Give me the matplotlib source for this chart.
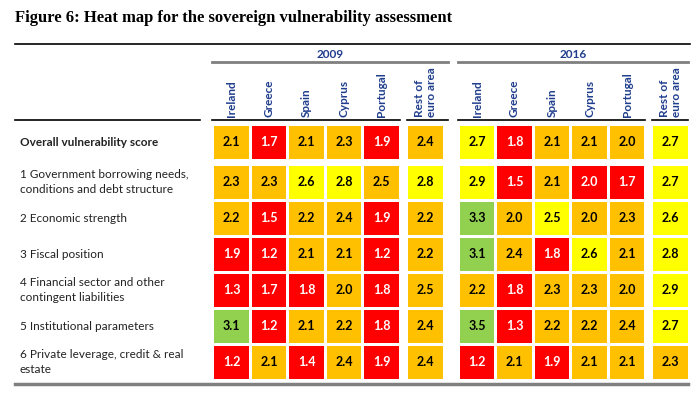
import matplotlib.pyplot as plt
from matplotlib.patches import Rectangle

# --- данные ---
countries = ['Ireland', 'Greece', 'Spain', 'Cyprus', 'Portugal', 'Rest of\neuro area']
years = ['2009', '2016']
row_labels = [
    'Overall vulnerability score',
    '1 Government borrowing needs,\nconditions and debt structure',
    '2 Economic strength',
    '3 Fiscal position',
    '4 Financial sector and other\ncontingent liabilities',
    '5 Institutional parameters',
    '6 Private leverage, credit & real\nestate',
]

scores_2009 = [
    [2.1, 1.7, 2.1, 2.3, 1.9, 2.4],
    [2.3, 2.3, 2.6, 2.8, 2.5, 2.8],
    [2.2, 1.5, 2.2, 2.4, 1.9, 2.2],
    [1.9, 1.2, 2.1, 2.1, 1.2, 2.2],
    [1.3, 1.7, 1.8, 2.0, 1.8, 2.5],
    [3.1, 1.2, 2.1, 2.2, 1.8, 2.4],
    [1.2, 2.1, 1.4, 2.4, 1.9, 2.4],
]
scores_2016 = [
    [2.7, 1.8, 2.1, 2.1, 2.0, 2.7],
    [2.9, 1.5, 2.1, 2.0, 1.7, 2.7],
    [3.3, 2.0, 2.5, 2.0, 2.3, 2.6],
    [3.1, 2.4, 1.8, 2.6, 2.1, 2.8],
    [2.2, 1.8, 2.3, 2.3, 2.0, 2.9],
    [3.5, 1.3, 2.2, 2.2, 2.4, 2.7],
    [1.2, 2.1, 1.9, 2.1, 2.1, 2.3],
]
# цвет ячейки: r - красный, o - оранжевый, y - жёлтый, g - зелёный
levels_2009 = ['orooro', 'ooyyoy', 'orooro', 'rrooro', 'rrroro', 'grooro', 'rororo']
levels_2016 = ['yroooy', 'yrorry', 'goyooy', 'goryoy', 'oroooy', 'groooy', 'rorooo']

# --- оформление ---
level_colors = {'r': '#FF0000', 'o': '#FFC000', 'y': '#FFFF00', 'g': '#92D050'}
navy = '#1F3D8C'
cell_font = 'Lato'

row_y = [142, 182, 218, 254, 290, 326, 362]
group_x0 = [231.5, 477]
rest_x = [425.5, 670.5]
pitch = 37.5
cell_w, cell_h = 34.5, 33

fig = plt.figure(figsize=(7, 4.04), dpi=100)
ax = fig.add_axes([0, 0, 1, 1])
ax.set_xlim(0, 700)
ax.set_ylim(404, 0)
ax.axis('off')

ax.text(15, 18, 'Figure 6: Heat map for the sovereign vulnerability assessment',
        family='Liberation Serif', weight='bold', fontsize=12, va='center', ha='left')

# линии
ax.plot([15, 690], [44, 44], color='black', lw=1.2)
ax.plot([15, 200], [120, 120], color='black', lw=1.2)
ax.plot([15, 688], [384, 384], color='#808080', lw=2.5)

for g, (yr, scores, levels) in enumerate([(years[0], scores_2009, levels_2009),
                                          (years[1], scores_2016, levels_2016)]):
    xs = [group_x0[g] + pitch * i for i in range(5)] + [rest_x[g]]
    left = xs[0] - cell_w / 2 - 2
    right = xs[-1] + cell_w / 2 + (5 if g == 0 else 0)
    ax.plot([left, right], [62, 62], color='#7F7F7F', lw=2)
    ax.text((left + right) / 2, 54, yr, color=navy, weight='bold', family=cell_font,
            fontsize=8.5, ha='center', va='center')
    ax.plot([left, xs[4] + cell_w / 2 + 1], [120, 120], color='black', lw=1.2)
    ax.plot([xs[5] - cell_w / 2 - 1, right], [120, 120], color='black', lw=1.2)

    for j, c in enumerate(countries):
        ax.text(xs[j], 117, c, rotation=90, color=navy, weight='bold', family=cell_font,
                fontsize=8.5, ha='center', va='bottom', multialignment='left',
                linespacing=1.05)

    for i in range(len(row_labels)):
        for j in range(len(countries)):
            lev = levels[i][j]
            ax.add_patch(Rectangle((xs[j] - cell_w / 2, row_y[i] - cell_h / 2), cell_w, cell_h,
                                   facecolor=level_colors[lev], edgecolor='none'))
            ax.text(xs[j], row_y[i], f'{scores[i][j]:.1f}', ha='center', va='center',
                    color='white' if lev == 'r' else 'black', weight='bold',
                    family=cell_font, fontsize=9)

for i, lab in enumerate(row_labels):
    ax.text(20, row_y[i], lab, ha='left', va='center', family=cell_font, fontsize=8.5,
            color='#222222', weight='bold' if i == 0 else 'normal', linespacing=1.45)

fig.savefig('out.png', dpi=100)
